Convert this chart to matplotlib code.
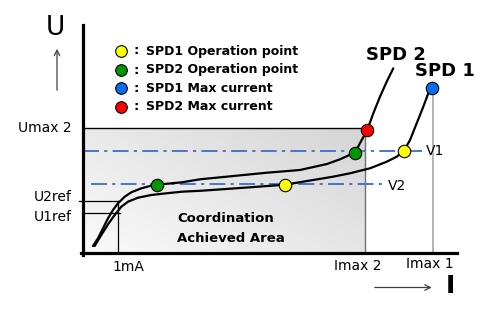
import numpy as np
import matplotlib
matplotlib.use("Agg")
import matplotlib.pyplot as plt
from matplotlib.colors import LinearSegmentedColormap

# ---- data (arbitrary current / voltage units) ----
spd1_current = [12.2, 18.8, 25.5, 32.2, 38.8, 45.5, 55.5, 68.8, 83.8, 99.5, 119.5, 167.5, 202.5,
                250.5, 267.5, 287.5, 304.2, 314.2, 321.5, 327.5, 334.2, 340.8, 345.8, 349.2]
spd1_voltage = [7, 18, 28.7, 38, 46.3, 51.3, 55.3, 58, 59.7, 61.3, 62.3, 65.7, 68.3,
                76.3, 79.7, 84.7, 91.3, 96.3, 102.3, 113, 129.7, 146.3, 159.7, 164.7]
spd2_current = [10.5, 15.5, 20.5, 25.5, 30.5, 35.5, 42.2, 48.8, 58.8, 68.8, 74.5, 99.5, 117.5,
                184.5, 217.5, 244.5, 257.5, 272.5, 279.2, 284.8, 290.8, 297.5, 304.2, 310.8]
spd2_voltage = [7, 14.7, 24.7, 34.7, 43, 49.7, 56.3, 60.7, 64.7, 67.3, 68.3, 70.7, 73.7,
                80.3, 83, 89, 93.7, 100.5, 113, 123, 139.7, 156.3, 171.3, 184.7]

op_labels = ["SPD1 Operation point", "SPD2 Operation point", "SPD1 Max current", "SPD2 Max current"]
op_colors = ["#FFFF00", "#009600", "#0A6CF5", "#FF0000"]

spd1_op_I = [202.5, 321.5]; spd1_op_U = [68.3, 102.3]
spd2_op_I = [74.5, 272.5];  spd2_op_U = [68.3, 100.5]
spd1_max = (349.2, 164.7)
spd2_max = (284.8, 123)

U_max2 = 125
V1 = 102
V2 = 69
U2ref = 52
U1ref = 40
I_1mA = 35.5
I_max2 = 282.5
I_max1 = 350.5

# ---- figure ----
fig = plt.figure(figsize=(5, 3.3), dpi=100)
ax = fig.add_axes([0, 0, 1, 1])
ax.set_xticks([]); ax.set_yticks([])
for s in ["top", "right"]:
    ax.spines[s].set_visible(False)
ax.spines["left"].set_position(("data", 0))
ax.spines["bottom"].set_position(("data", 0))
ax.spines["left"].set_bounds(-1.5, 228)
ax.spines["bottom"].set_bounds(-1.5, 374.5)
ax.spines["left"].set_linewidth(2.3)
ax.spines["bottom"].set_linewidth(2.3)
ax.spines["left"].set_zorder(6)
ax.spines["bottom"].set_zorder(6)

fnt = "DejaVu Sans"

# shaded coordination area with gradient
gx, gy = np.meshgrid(np.linspace(0, 1, 200), np.linspace(0, 1, 100))
shade = 0.55 * gx + 0.45 * gy
cmap = LinearSegmentedColormap.from_list("g", ["#fafafa", "#d5d5d5"])
ax.imshow(shade, cmap=cmap, extent=[0, I_max2, 0, U_max2], origin="lower",
          aspect="auto", zorder=0, vmin=0, vmax=1)
ax.set_xlim(-82.5, 417.5)
ax.set_ylim(-77, 253)

# reference lines
ax.plot([0, I_max2], [U_max2, U_max2], color="black", lw=1.0, zorder=2)
ax.plot([I_max2, I_max2], [0, U_max2], color="#707070", lw=1.0, zorder=2)
ax.plot([I_max1, I_max1], [0, spd1_max[1]], color="#a8a8a8", lw=1.2, zorder=2)
ax.plot([-4, I_1mA], [U2ref, U2ref], color="black", lw=0.9, zorder=2)
ax.plot([0, I_1mA + 2], [U1ref, U1ref], color="black", lw=0.9, zorder=2)
ax.plot([I_1mA, I_1mA], [0, U2ref], color="black", lw=0.9, zorder=2)

dash = (8.5, 2.8, 1.7, 2.8)
ax.plot([0, 339], [V1, V1], color="#4472C4", lw=1.35, dashes=dash, zorder=2)
ax.plot([8, 300.5], [V2, V2], color="#4472C4", lw=1.35, dashes=dash, zorder=2)

# curves
ax.plot(spd1_current, spd1_voltage, color="black", lw=1.6, zorder=3,
        solid_joinstyle="round", solid_capstyle="round")
ax.plot(spd2_current, spd2_voltage, color="black", lw=1.6, zorder=3,
        solid_joinstyle="round", solid_capstyle="round")

mk = dict(s=80, edgecolors="black", linewidths=0.8, zorder=5)
ax.scatter(spd1_op_I, spd1_op_U, c=op_colors[0], **mk)
ax.scatter(spd2_op_I, spd2_op_U, c=op_colors[1], **mk)
ax.scatter([spd1_max[0]], [spd1_max[1]], c=op_colors[2], **mk)
ax.scatter([spd2_max[0]], [spd2_max[1]], c=op_colors[3], **mk)

# legend
leg_U = [202, 183, 165, 146]
for lab, col, yy in zip(op_labels, op_colors, leg_U):
    ax.scatter([38.5], [yy], c=col, s=70, edgecolors="black", linewidths=0.8, zorder=5)
    ax.text(51, yy, ":", fontsize=9.5, fontweight="bold", family=fnt, va="center", ha="left")
    ax.text(63.5, yy, lab, fontsize=9, fontweight="bold", family=fnt, va="center", ha="left")

# labels
ax.text(-27.5, 225, "U", fontsize=19, family=fnt, ha="center", va="center")
ax.annotate("", xy=(-25.5, 207), xytext=(-25.5, 160),
            arrowprops=dict(arrowstyle="->", color="#404040", lw=0.9))
ax.text(367.5, -33, "I", fontsize=18, fontweight="bold", family=fnt, ha="center", va="center")
ax.annotate("", xy=(352, -34.5), xytext=(289.5, -34.5),
            arrowprops=dict(arrowstyle="->", color="#404040", lw=0.9))

ax.text(-11, U_max2, "Umax 2", fontsize=10, family=fnt, ha="right", va="center")
ax.text(-11, 56, "U2ref", fontsize=10, family=fnt, ha="right", va="center")
ax.text(-11, 36, "U1ref", fontsize=10, family=fnt, ha="right", va="center")
ax.text(45.5, -14, "1mA", fontsize=10, family=fnt, ha="center", va="center")
ax.text(275.5, -13, "Imax 2", fontsize=10, family=fnt, ha="center", va="center")
ax.text(347.5, -11, "Imax 1", fontsize=10, family=fnt, ha="center", va="center")
ax.text(343.5, V1, "V1", fontsize=10, family=fnt, ha="left", va="center")
ax.text(305.5, V2 - 2, "V2", fontsize=10, family=fnt, ha="left", va="center")
ax.text(313.5, 198, "SPD 2", fontsize=13, fontweight="bold", family=fnt, ha="center", va="center")
ax.text(362.5, 182, "SPD 1", fontsize=13, fontweight="bold", family=fnt, ha="center", va="center")
ax.text(94.5, 35, "Coordination", fontsize=9.5, fontweight="bold", family=fnt, ha="left", va="center")
ax.text(94.5, 15, "Achieved Area", fontsize=9.5, fontweight="bold", family=fnt, ha="left", va="center")

fig.savefig("out.png", dpi=100)
